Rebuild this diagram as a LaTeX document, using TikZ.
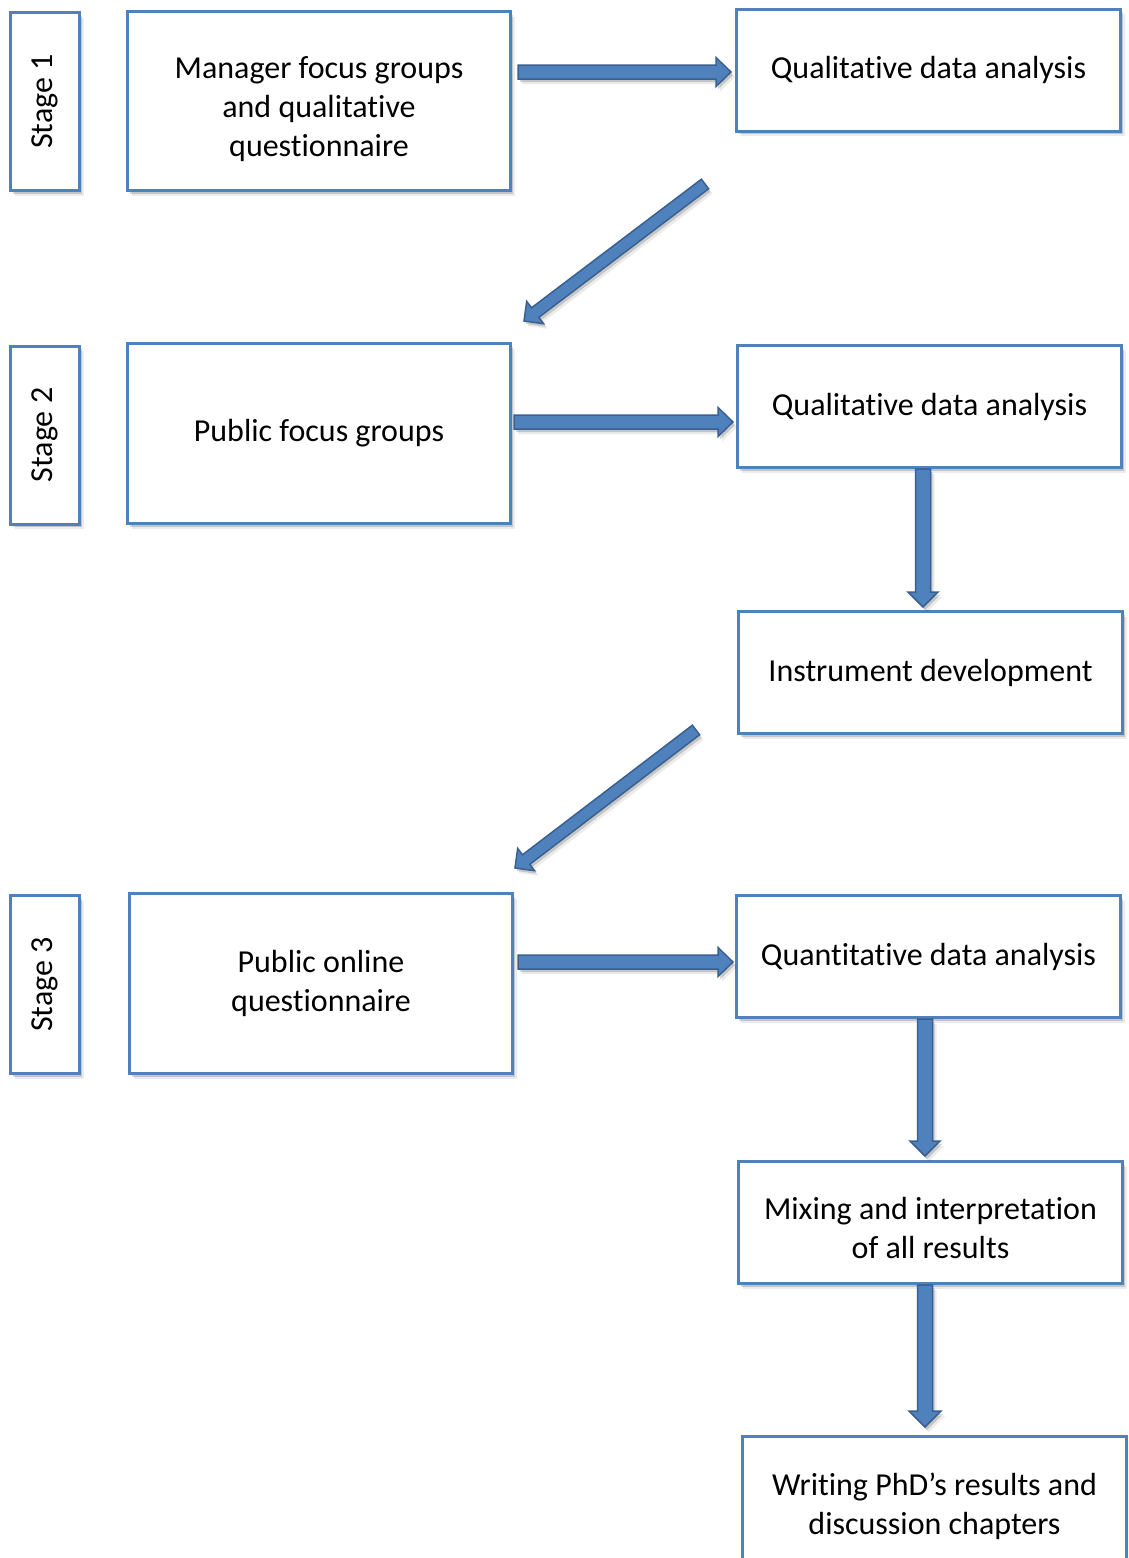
\documentclass[tikz,border=0pt]{standalone}
\usepackage{fontspec}
\usepackage{graphicx}
\setmainfont[Ligatures={NoCommon}]{Carlito}
\usetikzlibrary{calc,shadows}
\definecolor{boxblue}{HTML}{4F81BD}
\definecolor{arrowdark}{HTML}{3A6090}
\tikzset{
 shad/.style={drop shadow={shadow xshift=2pt,shadow yshift=-3pt,opacity=.16,fill=black},
              drop shadow={shadow xshift=4pt,shadow yshift=-5pt,opacity=.08,fill=black}},
 box/.style={draw=boxblue, line width=3pt, fill=white, inner sep=0pt, align=center,
             font=\fontsize{32}{39}\selectfont, shad},
 stagebox/.style={box, minimum width=69pt, minimum height=178pt},
 procbox/.style={box, minimum width=384pt, minimum height=122pt},
 bigbox/.style={box, minimum width=383pt, minimum height=180pt},
 blockarrow/.style={draw=arrowdark, fill=boxblue, line width=1.5pt, line join=miter, shad},
}
% start, end, half shaft, half head, head length
\newcommand\blockarr[5]{%
 \coordinate (hb) at ($(#2)!#5!(#1)$);
 \path[blockarrow] ($(#1)!#3!90:(#2)$) -- ($(hb)!#3!-90:(#1)$) -- ($(hb)!#4!-90:(#1)$)
   -- (#2) -- ($(hb)!#4!90:(#1)$) -- ($(hb)!#3!90:(#1)$) -- ($(#1)!#3!-90:(#2)$) -- cycle;
}
\begin{document}
\begin{tikzpicture}[x=1pt,y=-1pt]
\useasboundingbox (0,0) rectangle (1128,1558);
\clip (0,0) rectangle (1128,1558);

% stage labels
\node[stagebox] (s1) at (45,101.5) {\rotatebox{90}{Stage 1}};
\node[stagebox] (s2) at (45,435) {\rotatebox{90}{Stage 2}};
\node[stagebox] (s3) at (45,984.5) {\rotatebox{90}{Stage 3}};

% left column
\node[bigbox, minimum height=179pt, text height=111pt, text depth=0pt] (m1) at (319,101) {Manager focus groups\\and qualitative\\questionnaire};
\node[bigbox] (p2) at (319,433.5) {Public focus groups};
\node[bigbox] (p3) at (321,983.5) {Public online\\questionnaire};

% right column
\node[procbox] (q1) at (928.5,70) {Qualitative data analysis};
\node[procbox] (q2) at (929.5,406.5) {Qualitative data analysis};
\node[procbox] (inst) at (930.5,672.5) {Instrument development};
\node[procbox] (qt) at (928.5,956.5) {Quantitative data analysis};
\node[procbox, text height=72pt, text depth=0pt] (mix) at (930.5,1222.5) {Mixing and interpretation\\of all results};
\node[procbox, minimum height=128pt, text height=68pt, text depth=0pt] (wr) at (934.5,1500.5) {Writing PhD’s results and\\discussion chapters};

% connector end points
\coordinate (a1s) at (518,72);   \coordinate (a1e) at (731,72);
\coordinate (a2s) at (705,184);  \coordinate (a2e) at (524,321);
\coordinate (a3s) at (514,422);  \coordinate (a3e) at (733,422);
\coordinate (a4s) at (923,469);  \coordinate (a4e) at (923,607);
\coordinate (a5s) at (696,730);  \coordinate (a5e) at (515,868);
\coordinate (a6s) at (518,962);  \coordinate (a6e) at (733,962);
\coordinate (a7s) at (925,1019); \coordinate (a7e) at (925,1156);
\coordinate (a8s) at (925,1285); \coordinate (a8e) at (925,1427);

\blockarr{a1s}{a1e}{7pt}{14.5pt}{15pt}
\blockarr{a2s}{a2e}{6pt}{14pt}{14pt}
\blockarr{a3s}{a3e}{7pt}{14.5pt}{15pt}
\blockarr{a4s}{a4e}{7.5pt}{15pt}{15pt}
\blockarr{a5s}{a5e}{6pt}{14pt}{14pt}
\blockarr{a6s}{a6e}{7pt}{14.5pt}{15pt}
\blockarr{a7s}{a7e}{7.5pt}{15pt}{15pt}
\blockarr{a8s}{a8e}{7.5pt}{16pt}{16pt}
\end{tikzpicture}
\end{document}
